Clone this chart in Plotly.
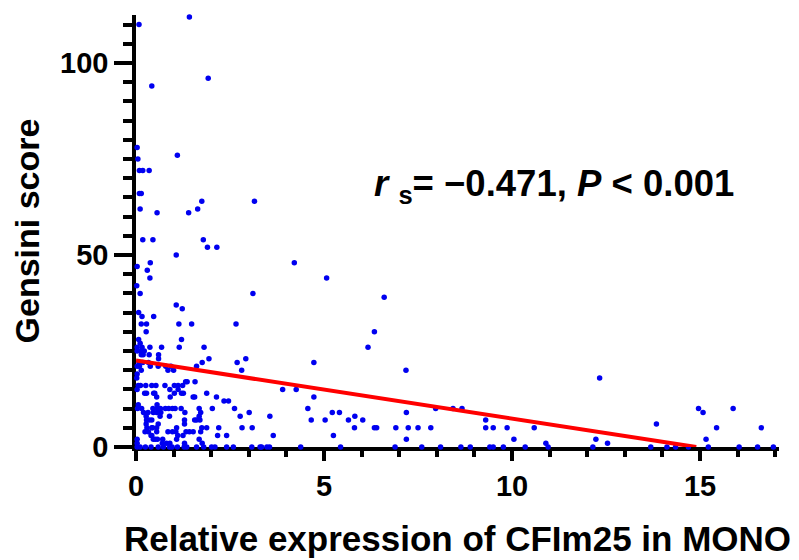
import plotly.graph_objects as go

# Scatter data (relative expression, Gensini score)
expr = [
    1.42, 0.08, 1.92, 0.42, 0.03, 1.10, 0.05, 0.09, 0.18, 0.35, 0.09, 0.14, 1.75, 3.15, 0.11, 0.56, 1.40, 1.64,
    0.18, 0.45, 1.79, 1.90, 2.15, 1.07, 4.21, 0.38, 0.03, 0.30, 0.37, 5.07, 0.02, 0.11, 3.11, 6.60, 1.07, 1.23,
    0.07, 0.16, 0.47, 0.14, 0.28, 1.14, 1.48, 2.66, 0.27, 6.34, 1.21, 0.07, 0.11, 0.03, 0.16, 0.37, 0.68, 1.15,
    1.81, 6.17, 0.13, 0.22, 0.03, 0.14, 0.35, 0.60, 0.19, 0.60, 1.94, 2.92, 0.08, 0.18, 0.33, 1.76, 2.69, 4.73,
    0.38, 0.79, 0.93, 1.61, 0.09, 0.03, 0.59, 0.85, 1.00, 0.14, 2.81, 7.18, 0.03, 0.02, 12.33, 1.36, 1.57, 1.32,
    0.06, 0.26, 0.42, 0.77, 1.12, 1.24, 0.12, 0.53, 1.02, 0.03, 0.90, 3.90, 4.26, 1.12, 0.23, 0.28, 0.50, 1.21,
    1.88, 0.47, 1.02, 1.26, 0.91, 1.56, 2.14, 1.52, 0.55, 4.73, 2.34, 2.46, 0.06, 0.56,
    0.04, 0.15, 0.45, 0.57, 0.65, 0.78, 0.87, 0.97, 1.04, 1.20, 1.68, 2.03, 2.62, 4.57, 7.97, 8.43, 8.67, 14.96, 15.88,
    0.20, 0.32, 0.46, 0.55, 0.66, 1.30, 1.72, 3.01, 5.22, 5.41, 7.19, 15.08,
    0.27, 0.64, 0.89, 1.68, 2.77, 3.56, 5.82,
    0.28, 0.35, 0.42, 1.29, 1.56, 1.61, 1.70, 4.66, 5.03, 5.65, 6.03, 9.30,
    0.27, 0.59, 1.29, 13.84,
    0.29, 0.42, 0.44, 0.55, 1.08, 1.75, 1.88, 2.20, 2.82, 3.09, 5.81, 6.34, 6.40, 6.91, 7.24, 7.50, 7.84, 9.30,
    9.50, 9.87, 10.59, 15.44, 16.63,
    0.24, 0.33, 0.55, 0.85, 0.97, 1.06, 1.33, 1.42, 1.52, 1.72,
    0.40, 0.42, 1.11, 1.25, 2.17, 2.41, 3.65, 5.25,
    0.03, 0.46, 0.51, 0.57, 0.71, 1.08, 1.68, 7.19, 10.05, 12.23, 15.16,
    0.03, 0.70, 0.81, 0.90, 1.29, 1.76, 10.90, 12.54,
    0.03, 0.11, 0.25, 0.40, 0.59, 0.73, 0.89, 0.96, 1.10, 1.28, 1.35, 1.61, 1.80, 2.01, 2.10, 2.41, 2.59, 3.08,
    3.30, 3.34, 3.48, 3.55, 4.38, 5.44, 6.89, 7.60, 8.10, 8.64, 8.89, 9.41, 9.50, 9.77, 10.35, 10.96, 12.15,
    13.69, 14.12, 14.35, 14.69, 15.22, 16.04, 16.53, 16.95,
]
gensini = [
    112, 110, 96, 94, 78, 76, 75, 72, 72, 72, 66, 66, 64, 64, 62, 61, 61, 62,
    54, 54, 54, 52, 52, 50, 48, 48, 47, 46, 44, 44, 42, 40, 40, 39, 37, 36,
    35, 34, 34, 32, 32, 32, 32, 32, 30, 30, 28, 28, 27, 26, 26, 26, 26, 26,
    26, 26, 25, 25, 25, 24, 24, 24, 24, 23, 23, 23, 22, 22, 22, 22, 22, 22,
    21, 21, 21, 21, 21, 21, 21, 20, 20, 20, 20, 20, 19, 18, 18, 17, 17, 17,
    16, 16, 16, 16, 16, 16, 16, 16, 16, 15, 15, 15, 15, 15, 14, 14, 14, 14,
    14, 14, 14, 14, 13, 13, 13, 13, 13, 13, 12, 12, 11, 11,
    10, 10, 10, 10, 10, 10, 10, 10, 10, 10, 10, 10, 10, 10, 10, 10, 10, 10, 10,
    9, 9, 9, 9, 9, 9, 9, 9, 9, 9, 9, 9,
    8, 8, 8, 8, 8, 8, 8,
    7, 7, 7, 7, 7, 7, 7, 7, 7, 7, 7, 7,
    6, 6, 6, 6,
    5, 5, 5, 5, 5, 5, 5, 5, 5, 5, 5, 5, 5, 5, 5, 5, 5, 5,
    5, 5, 5, 5, 5,
    4, 4, 4, 4, 4, 4, 4, 4, 4, 4,
    3, 3, 3, 3, 3, 3, 3, 3,
    2, 2, 2, 2, 2, 2, 2, 2, 2, 2, 2,
    1, 1, 1, 1, 1, 1, 1, 1,
    0, 0, 0, 0, 0, 0, 0, 0, 0, 0, 0, 0, 0, 0, 0, 0, 0, 0,
    0, 0, 0, 0, 0, 0, 0, 0, 0, 0, 0, 0, 0, 0, 0, 0, 0,
    0, 0, 0, 0, 0, 0, 0, 0,
]

# Regression line endpoints
fit_x = [0.0, 14.9]
fit_y = [22.5, 0.0]

x_ticks = [0, 5, 10, 15]
y_ticks = [0, 50, 100]

FONT = "Liberation Sans, Arial, sans-serif"

fig = go.Figure()
fig.add_trace(go.Scatter(
    x=expr, y=gensini, mode="markers",
    marker=dict(color="#0000F0", size=5.5, line=dict(width=0)),
    cliponaxis=False, showlegend=False,
))
fig.add_trace(go.Scatter(
    x=fit_x, y=fit_y, mode="lines",
    line=dict(color="#FF0000", width=4),
    cliponaxis=False, showlegend=False,
))

fig.add_annotation(
    x=6.28, y=68, xref="x", yref="y", xanchor="left", yanchor="middle",
    text="<b><i>r</i></b><b> <sub>s</sub>= \u22120.471, <i>P</i> &lt; 0.001</b>",
    showarrow=False, font=dict(family=FONT, size=36.5, color="black"),
)

axis_common = dict(
    showgrid=False, zeroline=False, showline=True, linecolor="black", linewidth=3.5,
    ticks="outside", tickcolor="black", tickwidth=3.5,
    tickfont=dict(family=FONT, size=29, color="black", weight="bold"),
    layer="below traces",
)

fig.update_xaxes(
    range=[0, 17.1], tickvals=x_ticks, ticktext=[str(v) for v in x_ticks], ticklen=10,
    minor=dict(dtick=1, tick0=0, ticks="outside", ticklen=6, tickwidth=3.5, tickcolor="black"),
    title=dict(text="Relative expression of CFIm25 in MONO",
               font=dict(family=FONT, size=35, color="black", weight="bold"), standoff=27),
    **axis_common,
)
fig.update_yaxes(
    range=[0, 112.5], tickvals=y_ticks, ticktext=[str(v) for v in y_ticks], ticklen=18,
    minor=dict(dtick=5, tick0=0, ticks="outside", ticklen=9, tickwidth=3.5, tickcolor="black"),
    title=dict(text="Gensini score",
               font=dict(family=FONT, size=34, color="black", weight="bold"), standoff=12),
    **axis_common,
)

# The page body adds an 8 px offset, so the figure is sized to fit inside the window
fig.update_layout(
    width=791, height=552,
    margin=dict(l=128, r=20, t=7, b=113, autoexpand=False),
    plot_bgcolor="white", paper_bgcolor="white",
)

fig.write_html("out.html")
